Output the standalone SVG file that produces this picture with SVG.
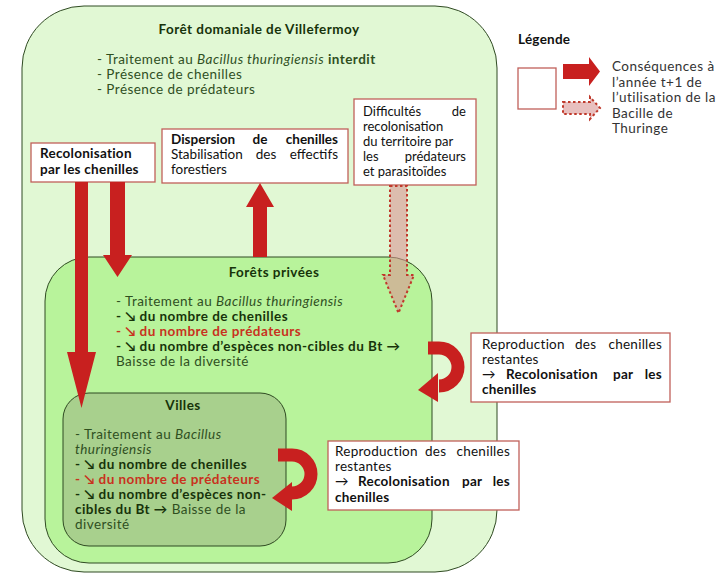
<svg xmlns="http://www.w3.org/2000/svg" width="725" height="576" viewBox="0 0 725 576">
<style>
text{font-family:Lato,"Liberation Sans",sans-serif;font-size:13.5px;letter-spacing:0.45px;fill:#2f4f1f}
.b{font-weight:bold}
.i{font-style:italic}
.dk{fill:#17330a}
.red{fill:#c8321e}
.bx{fill:#111;letter-spacing:0.25px}
.s13{font-size:13px;letter-spacing:0}
.s135{letter-spacing:0}
.lg{fill:#333}
.box{fill:#fff;stroke:#c0605a;stroke-width:1.3}
.arr{fill:#c8201f}
.dot{fill:#d99694;fill-opacity:0.6;stroke:#c0392b;stroke-width:2;stroke-dasharray:2.5 2.5}
.zone{stroke:#2f4a22;stroke-width:1}
</style>
<rect width="725" height="576" fill="#fff"/>

<g id="foret-domaniale">
<rect class="zone" x="22" y="6" width="475" height="566" rx="62" fill="#e1f8d4"/>
<text class="b dk" x="259" y="34" text-anchor="middle">Forêt domaniale de Villefermoy</text>
<text x="97" y="64">- Traitement au <tspan class="i">Bacillus thuringiensis</tspan> <tspan class="b">interdit</tspan></text>
<text x="97" y="79">- Présence de chenilles</text>
<text x="97" y="94">- Présence de prédateurs</text>
</g>

<g id="forets-privees">
<rect class="zone" x="45" y="257" width="387" height="306" rx="44" fill="#b8f39b"/>
<text class="b dk" x="274" y="277" text-anchor="middle">Forêts privées</text>
<text x="116" y="306">- Traitement au <tspan class="i">Bacillus thuringiensis</tspan></text>
<text class="b dk" x="116" y="321">- ↘ du nombre de chenilles</text>
<text class="b red" x="116" y="336">- ↘ du nombre de prédateurs</text>
<text class="b dk" x="116" y="351">- ↘ du nombre d’espèces non-cibles du Bt →</text>
<text x="116" y="366">Baisse de la diversité</text>
</g>

<g id="villes">
<rect class="zone" x="63" y="393" width="223" height="153" rx="26" fill="#a8d08d"/>
<text class="b dk" x="183" y="410" text-anchor="middle">Villes</text>
<text x="75" y="439">- Traitement au <tspan class="i">Bacillus</tspan></text>
<text class="i" x="75" y="454">thuringiensis</text>
<text class="b dk" x="75" y="469">- ↘ du nombre de chenilles</text>
<text class="b red" x="75" y="484">- ↘ du nombre de prédateurs</text>
<text class="b dk" x="75" y="499">- ↘ du nombre d’espèces non-</text>
<text x="75" y="514"><tspan class="b dk">cibles du Bt →</tspan> Baisse de la</text>
<text x="75" y="529">diversité</text>
</g>

<g id="recolonisation">
<rect class="box" x="31" y="143" width="124" height="39"/>
<text class="b bx" x="40" y="158">Recolonisation</text>
<text class="b bx" x="40" y="174">par les chenilles</text>
</g>

<g id="dispersion">
<rect class="box" x="162" y="129" width="186" height="54"/>
<text class="b bx s135" x="171" y="144">Dispersion</text>
<text class="b bx s135" x="260" y="144" text-anchor="middle">de</text>
<text class="b bx s135" x="338" y="144" text-anchor="end">chenilles</text>
<text class="bx s135" x="171" y="159">Stabilisation</text>
<text class="bx s135" x="266" y="159" text-anchor="middle">des</text>
<text class="bx s135" x="338" y="159" text-anchor="end">effectifs</text>
<text class="bx s135" x="171" y="174">forestiers</text>
</g>

<g id="difficultes">
<rect class="box" x="354" y="99" width="122" height="86"/>
<text class="bx s13" x="363" y="116">Difficultés</text>
<text class="bx s13" x="466" y="116" text-anchor="end">de</text>
<text class="bx s13" x="363" y="131">recolonisation</text>
<text class="bx s13" x="363" y="146">du territoire par</text>
<text class="bx s13" x="363" y="161">les</text>
<text class="bx s13" x="466" y="161" text-anchor="end">prédateurs</text>
<text class="bx s13" x="363" y="176">et parasitoïdes</text>
</g>

<g id="reproduction-1">
<rect class="box" x="471" y="333" width="199" height="69"/>
<text class="bx" x="482" y="349">Reproduction</text>
<text class="bx" x="575" y="349">des</text>
<text class="bx" x="662" y="349" text-anchor="end">chenilles</text>
<text class="bx" x="482" y="364">restantes</text>
<text class="bx" x="482" y="379">→</text>
<text class="b bx" x="506" y="379">Recolonisation</text>
<text class="b bx" x="613" y="379">par</text>
<text class="b bx" x="662" y="379" text-anchor="end">les</text>
<text class="b bx" x="482" y="394">chenilles</text>
</g>

<g id="reproduction-2">
<rect class="box" x="328" y="441" width="191" height="69"/>
<text class="bx" x="335" y="456">Reproduction</text>
<text class="bx" x="425" y="456">des</text>
<text class="bx" x="510" y="456" text-anchor="end">chenilles</text>
<text class="bx" x="335" y="471">restantes</text>
<text class="bx" x="335" y="486">→</text>
<text class="b bx" x="358" y="486">Recolonisation</text>
<text class="b bx" x="462" y="486">par</text>
<text class="b bx" x="510" y="486" text-anchor="end">les</text>
<text class="b bx" x="335" y="502">chenilles</text>
</g>

<g id="legende">
<text class="b bx" x="518" y="44">Légende</text>
<rect class="box" x="518" y="68" width="38" height="41"/>
<polygon class="arr" points="563,64 589,64 589,57 600,71.5 589,86 589,79 563,79"/>
<polygon class="dot" points="563,102 590,102 590,97 600,108 590,119 590,114 563,114"/>
<text class="lg" x="612" y="71">Conséquences à</text>
<text class="lg" x="612" y="87">l’année t+1 de</text>
<text class="lg" x="612" y="102">l’utilisation de la</text>
<text class="lg" x="612" y="118">Bacille de</text>
<text class="lg" x="612" y="133">Thuringe</text>
</g>

<g id="connecteurs">
<polygon class="arr" points="75,182 88,182 88,352 96,352 81.5,408 67,352 75,352"/>
<polygon class="arr" points="110,182 125,182 125,255 132,255 117.5,277 103,255 110,255"/>
<polygon class="arr" points="253,257 267,257 267,207 274,207 260,183 246,207 253,207"/>
<polygon class="dot" points="390,186 407,186 407,275 414,275 398.5,313 383,275 390,275"/>
<path d="M428 348 L439 348 A19 19 0 0 1 439 386" fill="none" stroke="#c8201f" stroke-width="13"/>
<polygon class="arr" points="418,390 438,373 438,402"/>
<path d="M278 455 L292 455 A19 19 0 0 1 292 493" fill="none" stroke="#c8201f" stroke-width="13"/>
<polygon class="arr" points="272,498 292,482 292,511"/>
</g>
</svg>
